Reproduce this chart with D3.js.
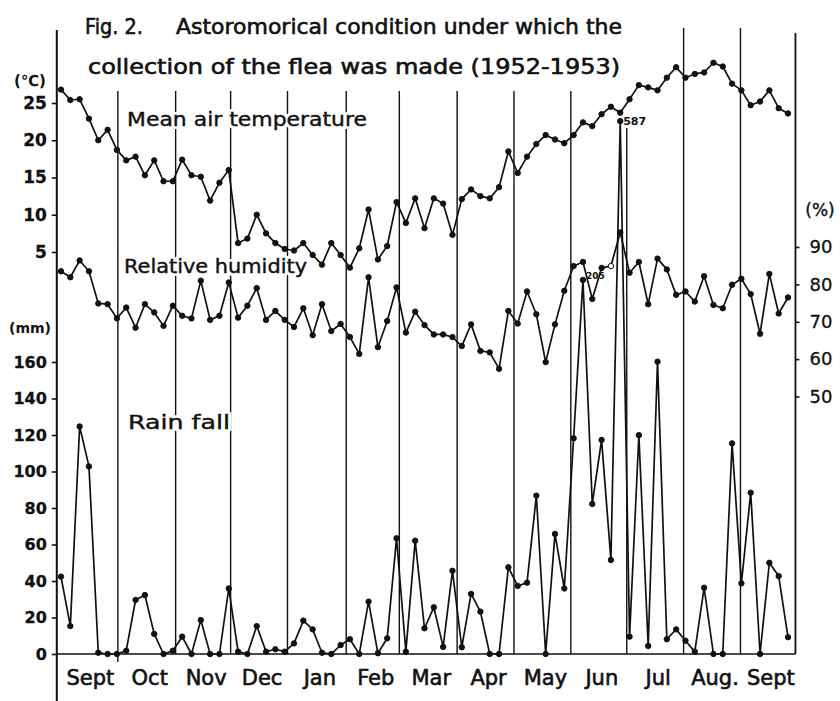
<!DOCTYPE html>
<html>
<head>
<meta charset="utf-8">
<script src="https://cdn.jsdelivr.net/npm/d3@7"></script>
<style>
  html, body { margin: 0; padding: 0; background: #fff; }
  svg { display: block; }
</style>
</head>
<body>
<div id="chart"></div>
<script>
/* Fig. 2 — pentad weather record, Sept 1952 to Sept 1953.
   Three series share one pentad x axis: air temperature (°C, left),
   relative humidity (%, right) and rainfall (mm, left, lower half). */

var months = ["Sept", "Oct", "Nov", "Dec", "Jan", "Feb", "Mar", "Apr", "May", "Jun", "Jul", "Aug.", "Sept"];
/* month boundaries in pentad-index units */
var monthEdges = [6.1, 12.3, 18.2, 24.3, 30.6, 36.3, 42.5, 48.6, 54.7, 60.7, 66.8, 72.9];

var temperature = [
  26.8, 25.4, 25.5, 22.9, 20.0, 21.4, 18.7, 17.3, 17.8, 15.3,
  17.3, 14.5, 14.5, 17.4, 15.3, 15.1, 11.9, 14.3, 16.0, 6.2,
  6.8, 10.0, 7.5, 6.2, 5.4, 5.2, 6.2, 4.6, 3.3, 6.2,
  4.6, 2.9, 5.5, 10.7, 4.0, 5.8, 11.7, 8.9, 12.2, 8.2,
  12.2, 11.5, 7.3, 12.1, 13.4, 12.5, 12.2, 13.7, 18.5, 15.6,
  17.8, 19.5, 20.7, 20.1, 19.6, 20.7, 22.4, 21.9, 23.5, 24.5,
  23.7, 25.5, 27.4, 27.1, 26.7, 28.4, 29.8, 28.4, 28.9, 29.1,
  30.4, 29.9, 27.6, 26.7, 24.7, 25.2, 26.7, 24.3, 23.6
];

var humidity = [
  83.5, 81.9, 86.4, 83.5, 74.9, 74.7, 70.9, 73.8, 68.4, 74.7,
  72.5, 68.9, 74.3, 71.6, 70.9, 81.0, 70.5, 71.6, 80.5, 71.1,
  74.3, 79.0, 70.5, 72.9, 70.5, 68.6, 73.6, 66.4, 74.7, 67.5,
  69.4, 65.9, 61.4, 81.9, 63.2, 70.2, 79.2, 67.1, 72.7, 69.1,
  66.6, 66.6, 65.9, 63.5, 69.3, 62.2, 61.8, 57.4, 72.9, 69.5,
  78.1, 72.0, 59.2, 69.3, 78.3, 84.9, 86.0, 76.1, 84.4, 84.9,
  93.9, 83.1, 86.0, 74.7, 86.9, 84.0, 77.2, 78.1, 75.4, 82.2,
  74.5, 73.6, 79.9, 81.5, 77.4, 66.8, 82.8, 72.2, 76.5
];

var rainfall = [
  42.4, 15.3, 124.7, 102.8, 0.7, 0, 0, 1.8, 29.6, 32.3,
  11, 0, 1.8, 9.5, 0, 18.6, 0, 0, 35.9, 1.3,
  0, 15.3, 1.3, 2.6, 1.3, 5.8, 18.3, 13.5, 0.7, 0,
  4.9, 8.1, 0, 28.7, 0.4, 8.6, 63.4, 1.3, 62.1, 14.1,
  25.6, 3.9, 45.6, 3.7, 32.9, 23.2, 0, 0, 47.5, 37.3,
  39.1, 86.8, 0, 65.8, 35.9, 118.2, 205, 82.2, 117.3, 51.5,
  587, 9.5, 119.9, 4.4, 160.2, 8.1, 13.5, 7.3, 1.3, 36.3,
  0, 0, 115.4, 38.7, 88.4, 0, 50, 42.7, 9.2
];

var tempTicks = [5, 10, 15, 20, 25];
var rainTicks = [0, 20, 40, 60, 80, 100, 120, 140, 160];
var humTicks = [50, 60, 70, 80, 90];
/* values above this are drawn as a spike cut at the top, with the value written */
var rainCap = 292;
var rainNoted = [205, 587];

var W = 840, H = 701;
var ink = "#111";
var font = "'DejaVu Sans', sans-serif";

var svg = d3.select("#chart").append("svg")
  .attr("width", W).attr("height", H)
  .attr("viewBox", "0 0 " + W + " " + H);

var x = d3.scaleLinear().domain([0, temperature.length - 1]).range([61, 788]);
var yTemp = d3.scaleLinear().domain([0, 25]).range([289.25, 103]);
var yHum = d3.scaleLinear().domain([50, 90]).range([396.5, 247]);
var yRain = d3.scaleLinear().domain([0, 160]).range([654, 362]);

var leftX = x(-0.45), rightX = x(78.8);

/* Month separators — later ones reach higher where the summer
   temperatures climb. */
monthEdges.forEach(function (e, i) {
  var top = i >= 10 ? 28 : (i === 9 ? 128 : 91);
  svg.append("line")
    .attr("x1", x(e)).attr("x2", x(e))
    .attr("y1", top).attr("y2", i === 0 ? 662 : yRain(0))
    .attr("stroke", ink).attr("stroke-width", 1.4);
});

/* Axes lines */
svg.append("line")
  .attr("x1", leftX).attr("x2", leftX).attr("y1", 30).attr("y2", 701)
  .attr("stroke", ink).attr("stroke-width", 2);
svg.append("line")
  .attr("x1", rightX).attr("x2", rightX).attr("y1", 33).attr("y2", yRain(0))
  .attr("stroke", ink).attr("stroke-width", 1.8);
svg.append("line")
  .attr("x1", leftX).attr("x2", rightX).attr("y1", yRain(0)).attr("y2", yRain(0))
  .attr("stroke", ink).attr("stroke-width", 1.6);

function styleAxis(g, size, weight) {
  g.select(".domain").remove();
  g.selectAll(".tick line").attr("stroke", ink).attr("stroke-width", 1.6);
  g.selectAll(".tick text")
    .attr("fill", ink)
    .attr("stroke", ink)
    .attr("stroke-width", 0.3)
    .attr("font-family", font)
    .attr("font-size", size)
    .attr("font-weight", weight);
}

svg.append("g")
  .attr("transform", "translate(" + leftX + ",0)")
  .call(d3.axisLeft(yTemp).tickValues(tempTicks).tickSize(5).tickPadding(5).tickFormat(d3.format("d")))
  .call(styleAxis, 17, "bold");

svg.append("g")
  .attr("transform", "translate(" + leftX + ",0)")
  .call(d3.axisLeft(yRain).tickValues(rainTicks).tickSize(5).tickPadding(5).tickFormat(d3.format("d")))
  .call(styleAxis, 16, "bold");

svg.append("g")
  .attr("transform", "translate(" + rightX + ",0)")
  .call(d3.axisRight(yHum).tickValues(humTicks).tickSize(4).tickPadding(10).tickFormat(d3.format("d")))
  .call(styleAxis, 18, "normal");

/* Text helper: optional white halo copy underneath so lines break round it */
function label(txt, px, py, size, opts) {
  opts = opts || {};
  function put(halo) {
    var t = svg.append("text")
      .attr("x", px).attr("y", py)
      .attr("fill", halo ? "#fff" : ink)
      .attr("font-family", font)
      .attr("font-size", size)
      .attr("font-weight", opts.weight || "normal")
      .attr("text-anchor", opts.anchor || "start")
      .attr("dominant-baseline", opts.baseline || "alphabetic")
      .text(txt);
    if (opts.len) t.attr("textLength", opts.len).attr("lengthAdjust", "spacingAndGlyphs");
    if (halo) t.attr("stroke", "#fff").attr("stroke-width", 6).attr("stroke-linejoin", "round");
    else if (opts.heavy) t.attr("stroke", ink).attr("stroke-width", opts.heavy);
    return t;
  }
  if (opts.halo) put(true);
  return put(false);
}

label("(℃)", 30, 81, 15, { anchor: "middle", baseline: "middle", weight: "bold" });
label("(mm)", 30, 329, 14, { anchor: "middle", baseline: "middle", weight: "bold" });
label("(%)", 820, 211, 17, { anchor: "middle", baseline: "middle", heavy: 0.4 });

/* Title */
label("Fig. 2.", 85, 34, 21, { len: 58, heavy: 0.6 });
label("Astoromorical condition under which the", 176, 34, 21, { len: 446, heavy: 0.6 });
label("collection of the flea was made (1952-1953)", 88, 74, 21, { len: 532, heavy: 0.6 });

/* Series names */
label("Mean air temperature", 127, 126, 19, { len: 240, halo: true, heavy: 0.4 });
label("Relative humidity", 124, 273, 19, { len: 183, halo: true, heavy: 0.4 });
label("Rain fall", 128, 429, 20, { len: 102, halo: true, heavy: 0.4 });

/* Month names, centred between the separators */
var edgesAll = [-0.45].concat(monthEdges, [78.8]);
months.forEach(function (m, i) {
  label(m, (x(edgesAll[i]) + x(edgesAll[i + 1])) / 2 + 3, 685, 21, { anchor: "middle", heavy: 0.6 });
});

/* Series lines + dots */
function drawSeries(values, yFn, hollow) {
  var line = d3.line()
    .x(function (d, i) { return x(i); })
    .y(function (d) { return yFn(d); });
  svg.append("path")
    .datum(values)
    .attr("d", line)
    .attr("fill", "none")
    .attr("stroke", ink)
    .attr("stroke-width", 1.7)
    .attr("stroke-linejoin", "round");
  svg.append("g").selectAll("circle")
    .data(values)
    .join("circle")
    .attr("cx", function (d, i) { return x(i); })
    .attr("cy", function (d) { return yFn(d); })
    .attr("r", 2.7)
    .attr("fill", function (d, i) { return hollow && hollow.indexOf(i) >= 0 ? "#fff" : ink; })
    .attr("stroke", ink)
    .attr("stroke-width", 1);
}

drawSeries(temperature, yTemp);
drawSeries(humidity, yHum, [59]);
drawSeries(rainfall, function (v) { return yRain(Math.min(v, rainCap)); });

/* Values written beside the tall rain spikes */
rainfall.forEach(function (v, i) {
  if (rainNoted.indexOf(v) < 0) return;
  var big = v > rainCap;
  label(String(v), x(i) + 3, yRain(Math.min(v, rainCap)) + (big ? 4 : -1),
        big ? 11 : 9, { weight: "bold" });
});
</script>
</body>
</html>
